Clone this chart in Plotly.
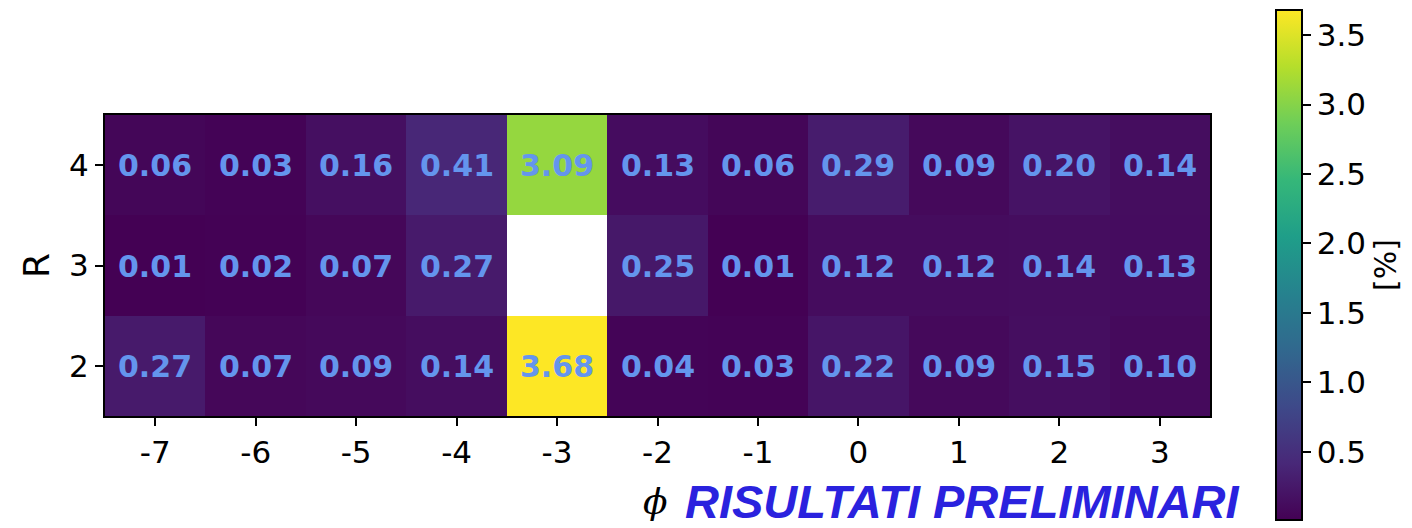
import numpy as np
import plotly.graph_objects as go

# Azimuthal sector (phi) and ring (R) indices
phi_labels = ["-7", "-6", "-5", "-4", "-3", "-2", "-1", "0", "1", "2", "3"]
r_labels = ["2", "3", "4"]

# Relative deviation per cell [%]; the (R=3, phi=-3) cell has no measurement
r2_vals = [0.27, 0.07, 0.09, 0.14, 3.68, 0.04, 0.03, 0.22, 0.09, 0.15, 0.10]
r3_vals = [0.01, 0.02, 0.07, 0.27, None, 0.25, 0.01, 0.12, 0.12, 0.14, 0.13]
r4_vals = [0.06, 0.03, 0.16, 0.41, 3.09, 0.13, 0.06, 0.29, 0.09, 0.20, 0.14]

cbar_ticks = [0.5, 1.0, 1.5, 2.0, 2.5, 3.0, 3.5]

z = np.array([[np.nan if v is None else v for v in row]
              for row in (r2_vals, r3_vals, r4_vals)], dtype=float)

L, R, T, B = 105, 202, 115, 112
W, H = 1412, 528
pw = W - L - R
ph = H - T - B

tick_font = dict(family="DejaVu Sans", size=31, color="black")

fig = go.Figure(go.Heatmap(
    z=z,
    x=phi_labels,
    y=r_labels,
    colorscale="Viridis",
    zmin=np.nanmin(z),
    zmax=np.nanmax(z),
    texttemplate="%{z:.2f}",
    textfont=dict(family="DejaVu Sans", size=30, color="#6495ED", weight="bold"),
    xgap=0, ygap=0,
    hoverongaps=False,
    colorbar=dict(
        x=(1276 - L) / pw, xanchor="left", xref="paper",
        y=(H - B - 265) / ph, yanchor="middle",
        len=510, lenmode="pixels",
        thickness=26, thicknessmode="pixels",
        outlinecolor="black", outlinewidth=2,
        ticks="outside", ticklen=8, tickwidth=2, tickcolor="black",
        tickvals=cbar_ticks, ticktext=[f"{v:.1f}" for v in cbar_ticks],
        tickfont=tick_font,
        title=dict(text="[%]", side="right",
                   font=dict(family="DejaVu Sans", size=30, color="black")),
        xpad=0, ypad=0,
    ),
))

fig.update_xaxes(
    type="category",
    showline=True, linecolor="black", linewidth=2, mirror=True,
    ticks="outside", ticklen=8, tickwidth=2, tickcolor="black",
    tickfont=tick_font,
    showgrid=False, zeroline=False,
)
fig.update_yaxes(
    type="category",
    showline=True, linecolor="black", linewidth=2, mirror=True,
    ticks="outside", ticklen=8, tickwidth=2, tickcolor="black",
    tickfont=tick_font,
    title=dict(text="R", font=dict(family="DejaVu Sans", size=36, color="black"),
               standoff=8),
    showgrid=False, zeroline=False,
)

# Axis label for phi plus the banner text beside it
fig.add_annotation(
    text="ϕ", x=(655 - L) / pw, y=(H - B - 502) / ph,
    xref="paper", yref="paper", xanchor="center", yanchor="middle",
    showarrow=False,
    font=dict(family="DejaVu Serif", size=36, color="black", style="italic"),
)
fig.add_annotation(
    text="<b><i>RISULTATI PRELIMINARI</i></b>",
    x=(683 - L) / pw, y=(H - B - 501) / ph,
    xref="paper", yref="paper", xanchor="left", yanchor="middle",
    showarrow=False,
    font=dict(family="Liberation Sans", size=47, color="#2A22DE"),
)

fig.update_layout(
    width=W, height=H,
    margin=dict(l=L, r=R, t=T, b=B, autoexpand=False),
    paper_bgcolor="white",
    plot_bgcolor="white",
)

fig.write_html("out.html")
